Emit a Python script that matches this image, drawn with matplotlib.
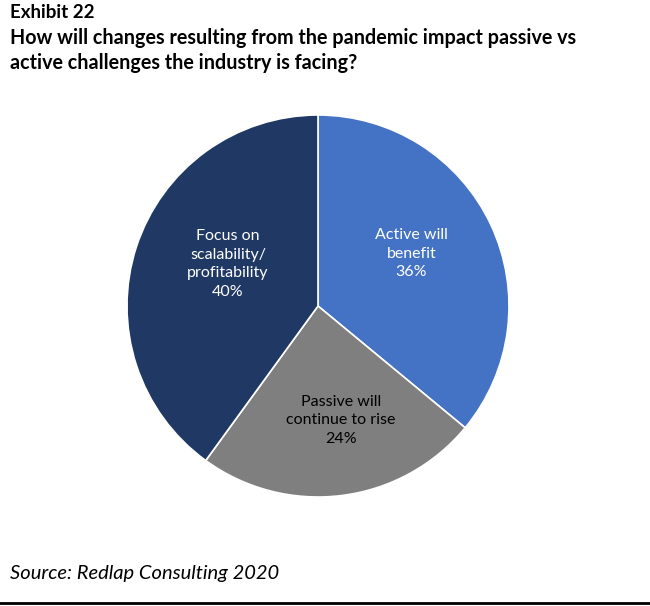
import numpy as np
import matplotlib.pyplot as plt

# Survey shares
labels = ["Active will\nbenefit", "Passive will\ncontinue to rise", "Focus on\nscalability/\nprofitability"]
shares = [36, 24, 40]
colors = ["#4472C4", "#7F7F7F", "#203864"]
text_colors = ["white", "black", "white"]
label_dist = [0.56, 0.61, 0.52]
label_shift = [4, 4, -7]  # degrees

plt.rcParams['font.family'] = ['Lato', 'DejaVu Sans']

fig = plt.figure(figsize=(6.5, 6.06), dpi=100)
W, H = 650, 606
cx, cy, r = 318, 306, 191
ax = fig.add_axes([(cx - r) / W, (H - cy - r) / H, 2 * r / W, 2 * r / H])

wedges, _ = ax.pie(shares, colors=colors, startangle=90, counterclock=False,
                   wedgeprops=dict(edgecolor="white", linewidth=1.2))
ax.set_xlim(-1.0, 1.0)
ax.set_ylim(-1.0, 1.0)
ax.set_aspect("equal")
ax.axis("off")

for w, lab, val, tc, d, sh in zip(wedges, labels, shares, text_colors, label_dist, label_shift):
    ang = np.deg2rad((w.theta1 + w.theta2) / 2 + sh)
    ax.text(d * np.cos(ang), d * np.sin(ang), f"{lab}\n{val}%", ha="center", va="center",
            color=tc, fontsize=11.5, linespacing=1.4)

fig.text(10 / W, 1 - 13 / H, "Exhibit 22", fontsize=13.5, fontweight="bold", va="center")
fig.text(10 / W, 1 - 38 / H, "How will changes resulting from the pandemic impact passive vs",
         fontsize=14.2, fontweight="bold", va="center")
fig.text(10 / W, 1 - 63 / H, "active challenges the industry is facing?",
         fontsize=14.2, fontweight="bold", va="center")
fig.text(10 / W, 1 - 574 / H, "Source: Redlap Consulting 2020", fontsize=14.5, style="italic", va="center")

fig.add_artist(plt.Line2D([0, 1], [1 - 603 / H, 1 - 603 / H], color="black", linewidth=2))

fig.savefig("out.png", dpi=100)
